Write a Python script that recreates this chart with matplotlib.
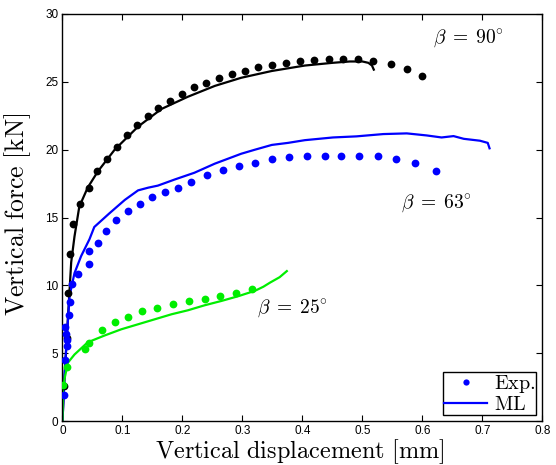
import matplotlib
matplotlib.use("Agg")
import matplotlib.pyplot as plt
from matplotlib.lines import Line2D

plt.rcParams['mathtext.fontset'] = 'cm'
plt.rcParams['font.family'] = ['Liberation Sans', 'DejaVu Sans']

# beta = 90 deg
b90_exp_d = [0.003, 0.007, 0.010, 0.012, 0.017, 0.030, 0.044, 0.058, 0.074, 0.091, 0.107, 0.125,
             0.143, 0.160, 0.179, 0.200, 0.219, 0.240, 0.261, 0.282, 0.304, 0.326, 0.349, 0.372,
             0.396, 0.419, 0.444, 0.468, 0.493, 0.518, 0.548, 0.575, 0.600]
b90_exp_F = [2.6, 6.1, 9.4, 12.3, 14.5, 16.0, 17.2, 18.4, 19.3, 20.2, 21.1, 21.8,
             22.5, 23.1, 23.6, 24.1, 24.6, 24.9, 25.3, 25.6, 25.8, 26.1, 26.25, 26.4,
             26.5, 26.6, 26.7, 26.7, 26.7, 26.5, 26.35, 25.95, 25.4]
b90_ml_d = [0.0, 0.003, 0.008, 0.0145, 0.020, 0.028, 0.042, 0.059, 0.087, 0.126, 0.165, 0.209,
            0.254, 0.298, 0.349, 0.404, 0.450, 0.479, 0.500, 0.510, 0.516, 0.519]
b90_ml_F = [0.0, 2.9, 6.8, 11.7, 13.6, 15.8, 17.2, 18.4, 20.0, 21.7, 23.0, 23.9,
            24.7, 25.3, 25.8, 26.2, 26.4, 26.5, 26.5, 26.4, 26.2, 25.9]

# beta = 63 deg
b63_exp_d = [0.002, 0.004, 0.005, 0.006, 0.007, 0.007, 0.011, 0.012, 0.016, 0.026, 0.044, 0.045,
             0.059, 0.072, 0.090, 0.110, 0.130, 0.150, 0.171, 0.192, 0.215, 0.241, 0.267, 0.294,
             0.321, 0.350, 0.377, 0.407, 0.438, 0.465, 0.495, 0.526, 0.556, 0.588, 0.623]
b63_exp_F = [1.9, 4.5, 6.95, 6.45, 5.95, 5.5, 7.8, 8.8, 10.1, 10.8, 11.6, 12.5,
             13.1, 14.0, 14.8, 15.5, 16.0, 16.5, 16.9, 17.2, 17.65, 18.1, 18.5, 18.8,
             19.0, 19.3, 19.43, 19.5, 19.5, 19.5, 19.5, 19.5, 19.34, 19.04, 18.46]
b63_ml_d = [0.0, 0.003, 0.007, 0.0117, 0.020, 0.031, 0.045, 0.053, 0.078, 0.104, 0.126, 0.143,
            0.159, 0.187, 0.220, 0.254, 0.298, 0.321, 0.349, 0.376, 0.404, 0.451, 0.490, 0.535,
            0.574, 0.607, 0.632, 0.652, 0.669, 0.696, 0.709, 0.712]
b63_ml_F = [0.0, 3.0, 6.0, 9.2, 10.9, 12.15, 13.4, 14.3, 15.3, 16.3, 17.0, 17.2,
            17.35, 17.8, 18.3, 18.97, 19.7, 20.0, 20.35, 20.5, 20.7, 20.9, 20.98, 21.15,
            21.2, 21.05, 20.9, 21.0, 20.8, 20.66, 20.5, 20.1]

# beta = 25 deg
b25_exp_d = [0.001, 0.008, 0.037, 0.045, 0.066, 0.087, 0.110, 0.133, 0.158, 0.184, 0.211,
             0.237, 0.263, 0.289, 0.316]
b25_exp_F = [2.65, 4.0, 5.3, 5.78, 6.7, 7.3, 7.7, 8.09, 8.36, 8.65, 8.82,
             9.02, 9.24, 9.46, 9.7]
b25_ml_d = [0.0, 0.001, 0.009, 0.020, 0.042, 0.070, 0.098, 0.126, 0.154, 0.182, 0.209, 0.237,
            0.265, 0.293, 0.321, 0.335, 0.346, 0.362, 0.374]
b25_ml_F = [0.0, 2.6, 4.3, 4.9, 5.8, 6.3, 6.76, 7.13, 7.5, 7.87, 8.16, 8.53,
            8.85, 9.2, 9.6, 9.9, 10.2, 10.6, 11.05]

x_ticks = [0, 0.1, 0.2, 0.3, 0.4, 0.5, 0.6, 0.7, 0.8]
x_ticklabels = ['0', '0.1', '0.2', '0.3', '0.4', '0.5', '0.6', '0.7', '0.8']
y_ticks = [0, 5, 10, 15, 20, 25, 30]

fig = plt.figure(figsize=(5.56, 4.65), dpi=100)
ax = fig.add_axes([0.1124, 0.0946, 0.8630, 0.8753])

ms = 5.6
lw = 1.6
for d, F, dm, Fm, c in [(b90_exp_d, b90_exp_F, b90_ml_d, b90_ml_F, 'black'),
                        (b63_exp_d, b63_exp_F, b63_ml_d, b63_ml_F, 'blue'),
                        (b25_exp_d, b25_exp_F, b25_ml_d, b25_ml_F, '#00ee00')]:
    ax.plot(dm, Fm, '-', color=c, lw=lw, zorder=2)
    ax.plot(d, F, 'o', color=c, ms=ms, mec='none', zorder=3)

ax.set_xlim(0, 0.8)
ax.set_ylim(0, 30)
ax.set_xticks(x_ticks)
ax.set_xticklabels(x_ticklabels)
ax.set_yticks(y_ticks)
ax.tick_params(direction='in', top=True, right=True, length=4, width=0.8,
               labelsize=8.5, pad=3)
for s in ax.spines.values():
    s.set_linewidth(1.0)

ax.set_xlabel(r'$\mathrm{Vertical\ displacement\ [mm]}$', fontsize=17.5)
ax.set_ylabel(r'$\mathrm{Vertical\ force\ [kN]}$', fontsize=18.5)
ax.xaxis.set_label_coords(0.495, -0.039)
ax.yaxis.set_label_coords(-0.062, 0.509)

ax.text(0.676, 28.2, r'$\beta\;=\;90^{\circ}$', fontsize=14, ha='center', va='center')
ax.text(0.623, 16.06, r'$\beta\;=\;63^{\circ}$', fontsize=14, ha='center', va='center')
ax.text(0.384, 8.33, r'$\beta\;=\;25^{\circ}$', fontsize=14, ha='center', va='center')

handles = [Line2D([], [], ls='none', marker='o', color='blue', ms=4.5, mec='none'),
           Line2D([], [], ls='-', color='blue', lw=lw)]
leg = ax.legend(handles, [r'$\mathrm{Exp.}$', r'$\mathrm{ML}$'], loc='lower right',
                fontsize=14.5, frameon=True, fancybox=False, edgecolor='black',
                framealpha=1, borderpad=0.05, labelspacing=0.0, handlelength=2.1,
                handletextpad=0.35, borderaxespad=0.3)
leg.get_frame().set_linewidth(1.0)

fig.savefig('out.png', dpi=100)
